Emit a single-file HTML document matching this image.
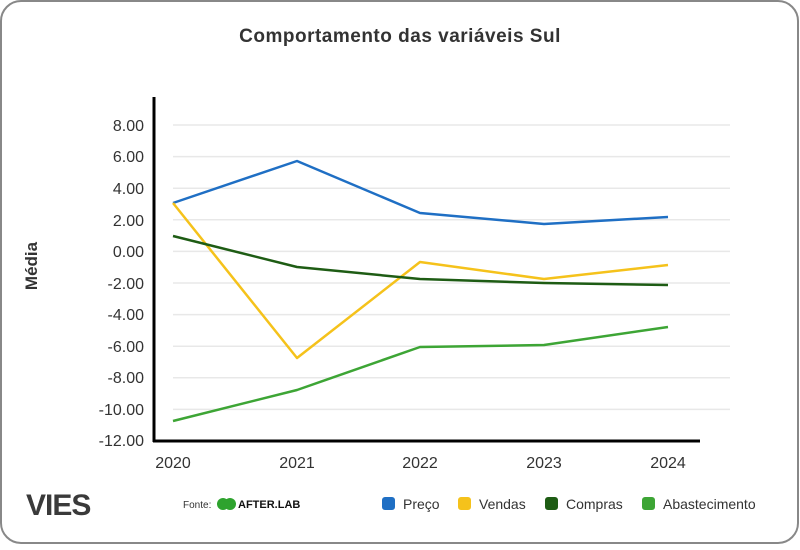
<!DOCTYPE html>
<html><head><meta charset="utf-8"><style>
body{margin:0;background:#fff;}
</style></head><body>
<svg width="800" height="545" viewBox="0 0 800 545" xmlns="http://www.w3.org/2000/svg" font-family="Liberation Sans, sans-serif">
<rect x="1" y="1" width="797" height="542" rx="20" fill="#fff" stroke="#888" stroke-width="2"/>
<text x="400" y="42" text-anchor="middle" font-size="19" fill="#333" font-weight="bold" letter-spacing="0.5">Comportamento das variáveis Sul</text>
<text transform="translate(37,266) rotate(-90)" text-anchor="middle" font-size="17" font-weight="bold" fill="#333">Média</text>
<g stroke="#e8e8e8" stroke-width="1.5">
<line x1="173" x2="730" y1="125" y2="125"/><line x1="173" x2="730" y1="156.6" y2="156.6"/><line x1="173" x2="730" y1="188.2" y2="188.2"/><line x1="173" x2="730" y1="219.8" y2="219.8"/><line x1="173" x2="730" y1="251.4" y2="251.4"/><line x1="173" x2="730" y1="283" y2="283"/><line x1="173" x2="730" y1="314.6" y2="314.6"/><line x1="173" x2="730" y1="346.2" y2="346.2"/><line x1="173" x2="730" y1="377.8" y2="377.8"/><line x1="173" x2="730" y1="409.4" y2="409.4"/>
</g>
<g font-size="16" fill="#333" text-anchor="end">
<text x="144" y="131">8.00</text><text x="144" y="162">6.00</text><text x="144" y="194">4.00</text><text x="144" y="226">2.00</text><text x="144" y="257">0.00</text><text x="144" y="289">-2.00</text><text x="144" y="320">-4.00</text><text x="144" y="352">-6.00</text><text x="144" y="383">-8.00</text><text x="144" y="415">-10.00</text><text x="144" y="446">-12.00</text>
</g>
<line x1="154" y1="97" x2="154" y2="442" stroke="#000" stroke-width="3"/>
<line x1="153" y1="441" x2="700" y2="441" stroke="#000" stroke-width="3"/>
<g font-size="16" fill="#333" text-anchor="middle">
<text x="173" y="468">2020</text><text x="297" y="468">2021</text><text x="420" y="468">2022</text><text x="544" y="468">2023</text><text x="668" y="468">2024</text>
</g>
<g fill="none" stroke-width="2.5" stroke-linejoin="round">
<polyline stroke="#1f6fc4" points="173,203 297,161 420,213 544,224 668,217"/>
<polyline stroke="#f5c21b" points="173,203 297,358 420,262 544,279 668,265"/>
<polyline stroke="#1e5c14" points="173,236 297,267 420,279 544,283 668,285"/>
<polyline stroke="#3da535" points="173,421 297,390 420,347 544,345 668,327"/>
</g>
<text x="26" y="515" font-size="30" font-weight="bold" fill="#3a3a3a" letter-spacing="-1">VIES</text>
<text x="183" y="508" font-size="10" fill="#333">Fonte:</text>
<circle cx="223" cy="504" r="6" fill="#2ea32e"/><circle cx="230" cy="504" r="6" fill="#2ea32e"/>
<text x="238" y="508" font-size="11" font-weight="bold" fill="#111">AFTER.LAB</text>
<g font-size="14" fill="#333">
<rect x="382" y="497" width="13" height="13" rx="3" fill="#1f6fc4"/><text x="403" y="509">Preço</text>
<rect x="458" y="497" width="13" height="13" rx="3" fill="#f5c21b"/><text x="479" y="509">Vendas</text>
<rect x="545" y="497" width="13" height="13" rx="3" fill="#1e5c14"/><text x="566" y="509">Compras</text>
<rect x="642" y="497" width="13" height="13" rx="3" fill="#3da535"/><text x="663" y="509">Abastecimento</text>
</g>
</svg>
</body></html>
